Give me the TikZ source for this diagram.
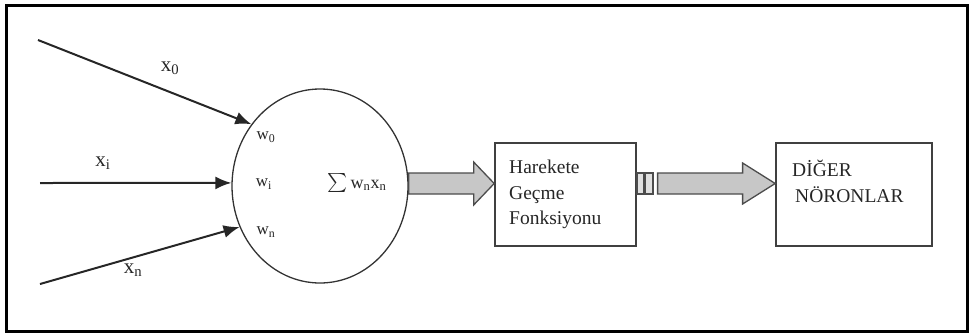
\documentclass[tikz,border=0pt]{standalone}
\usepackage{fontspec}
\usepackage{graphicx}
\setmainfont{Liberation Serif}
\usetikzlibrary{arrows.meta,shapes.geometric,calc}
\begin{document}
\begin{tikzpicture}[x=1pt,y=1pt,
  xlbl/.style={inner sep=0pt, font=\fontsize{21}{24}\selectfont, text=black!85},
  wlbl/.style={inner sep=0pt, font=\fontsize{17}{20}\selectfont, text=black!85},
  inarrow/.style={line width=2pt, draw=black!85, -{Latex[length=16pt,width=13pt]}},
  box/.style={draw=black!75, line width=1.6pt, minimum height=103pt, inner sep=0pt},
  sq/.style={draw=black!70, line width=1.2pt, fill=black!12, minimum height=21pt, inner sep=0pt},
  fat/.style={draw=black!70, line width=1.3pt, fill=black!22, line join=miter},
  btxt/.style={inner sep=0pt, align=left, anchor=north west, font=\fontsize{19.5}{25.5}\selectfont, text=black!85}]
\useasboundingbox (0,0) rectangle (972,-333);
% outer frame
\node[draw=black, line width=3pt, minimum width=961pt, minimum height=326pt, inner sep=0pt] (frame) at (486.5,-168) {};
% neuron body
\node[ellipse, draw=black!80, line width=1.3pt, minimum width=176pt, minimum height=194pt, inner sep=0pt] (neuron) at (320,-186) {};
\node[inner sep=0pt, font=\fontsize{18}{20}\selectfont, text=black!85] (sum) at (357,-183) {\raisebox{-3pt}{\scalebox{1.9}{$\sum$}}\,w\textsubscript{n}x\textsubscript{n}};
% boxes
\node[box, minimum width=141pt] (act) at (565.5,-194.5) {};
\node[btxt] (acttxt) at (509,-160) {Harekete\\Geçme\\Fonksiyonu};
\node[box, minimum width=156pt] (other) at (854,-194.5) {};
\node[btxt] (othertxt) at (792,-160) {DİĞER\\\hspace*{3pt}NÖRONLAR};
% small chain rectangles
\node[sq, minimum width=7pt] (sqa) at (640.5,-183.5) {};
\node[sq, minimum width=8pt] (sqb) at (649,-183.5) {};
% inputs
\coordinate (in0) at (38,-40);
\coordinate (in1) at (40,-183);
\coordinate (in2) at (40,-284);
\draw[inarrow] (in0) -- (neuron.138);
\draw[inarrow] (in1) -- (neuron.178);
\draw[inarrow] (in2) -- (neuron.207);
\node[xlbl] (x0) at (170,-68) {x\textsubscript{0}};
\node[xlbl] (xi) at (103,-163) {x\textsubscript{i}};
\node[xlbl] (xn) at (133,-270) {x\textsubscript{n}};
\node[wlbl] (w0) at (266,-137) {w\textsubscript{0}};
\node[wlbl] (wi) at (264,-184) {w\textsubscript{i}};
\node[wlbl] (wn) at (266,-232) {w\textsubscript{n}};
% fat arrows
\draw[fat] ($(neuron.east)+(0,13)$) -- ($(neuron.east)+(65,13)$) -- ($(neuron.east)+(65,24)$)
  -- ($(act.west)+(0,11)$) -- ($(neuron.east)+(65,-19)$) -- ($(neuron.east)+(65,-8)$)
  -- ($(neuron.east)+(0,-8)$) -- cycle;
\draw[fat] ($(sqb.east)+(4,10.5)$) -- ($(sqb.east)+(89,10.5)$) -- ($(sqb.east)+(89,20.5)$)
  -- ($(other.west)+(0,11)$) -- ($(sqb.east)+(89,-20.5)$) -- ($(sqb.east)+(89,-10.5)$)
  -- ($(sqb.east)+(4,-10.5)$) -- cycle;
\end{tikzpicture}
\end{document}
